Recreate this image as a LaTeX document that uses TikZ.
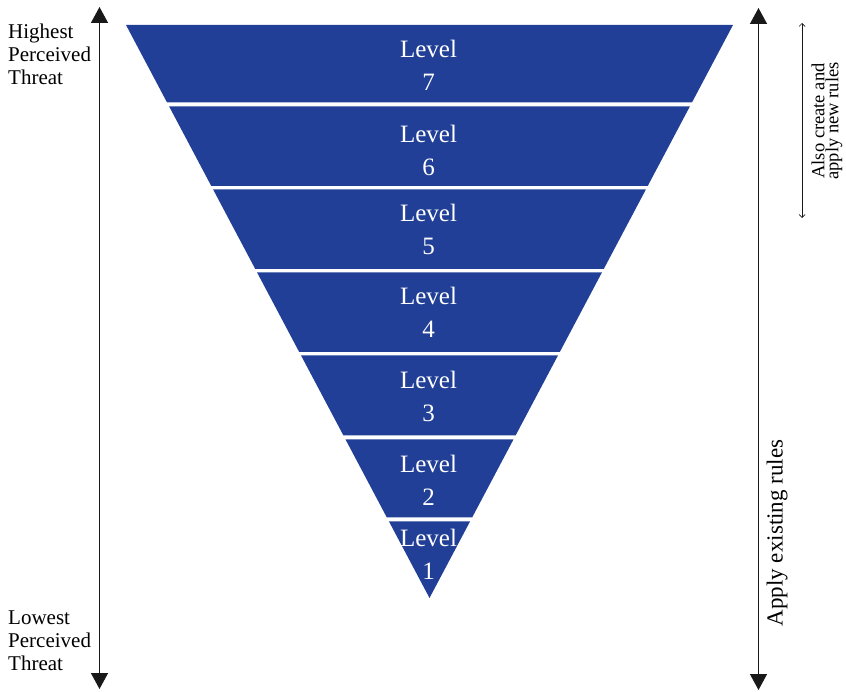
\documentclass[tikz,border=0pt]{standalone}
\usepackage{fontspec}
\setmainfont{Liberation Serif}
\usetikzlibrary{arrows.meta,calc}
\definecolor{pyr}{RGB}{33,63,150}
\definecolor{arr}{RGB}{25,25,25}
\begin{document}
\begin{tikzpicture}[x=1pt,y=-1pt,
  band/.style={fill=pyr},
  lvl/.style={text=white, align=center, font=\fontsize{25}{33}\selectfont, inner sep=0},
  side/.style={align=left, font=\fontsize{21}{23}\selectfont, inner sep=0, anchor=north west},
  bigarrow/.style={draw=arr, line width=1.4pt, {Triangle[length=16pt,width=17pt]}-{Triangle[length=16pt,width=17pt]}},
  smallarrow/.style={draw=arr, line width=0.7pt, {Straight Barb[length=3pt,width=6pt]}-{Straight Barb[length=3pt,width=6pt]}}]
\useasboundingbox (0,0) rectangle (846,692);
\coordinate (A) at (126,25);
\coordinate (B) at (733,25);
\coordinate (C) at (429.5,598);
\foreach \ya/\yb in {25/102.5, 106.5/186, 189.5/269, 272.5/352, 355.5/435.5, 439.5/517.5, 521.5/598}{
  \fill[band] ($(A)!{(\ya-25)/573}!(C)$) -- ($(B)!{(\ya-25)/573}!(C)$) -- ($(B)!{(\yb-25)/573}!(C)$) -- ($(A)!{(\yb-25)/573}!(C)$) -- cycle;
}
\node[lvl] (L7) at (428.5,65) {Level\\7};
\node[lvl] (L6) at (428.5,150) {Level\\6};
\node[lvl] (L5) at (428.5,229.5) {Level\\5};
\node[lvl] (L4) at (428.5,312.5) {Level\\4};
\node[lvl] (L3) at (428.5,396.5) {Level\\3};
\node[lvl] (L2) at (428.5,480.5) {Level\\2};
\node[lvl] (L1) at (428.5,554) {Level\\1};
\coordinate (lt) at (99.5,7);
\coordinate (lb) at (99.5,689);
\draw[bigarrow] (lt) -- (lb);
\coordinate (rt) at (758.5,8);
\coordinate (rb) at (758.5,690);
\draw[bigarrow] (rt) -- (rb);
\coordinate (st) at (802,23);
\coordinate (sb) at (802,218);
\draw[smallarrow] (st) -- (sb);
\node[side] (hi) at (8,24) {Highest\\Perceived\\Threat};
\node[side] (lo) at (8,611) {Lowest\\Perceived\\Threat};
\node[rotate=90, font=\fontsize{23}{28}\selectfont, inner sep=0] (app) at (777,533) {Apply existing rules};
\node[rotate=90, align=center, font=\fontsize{18.5}{14}\selectfont, inner sep=0] (new) at (827,121) {Also create and\\apply new rules};
\end{tikzpicture}
\end{document}
